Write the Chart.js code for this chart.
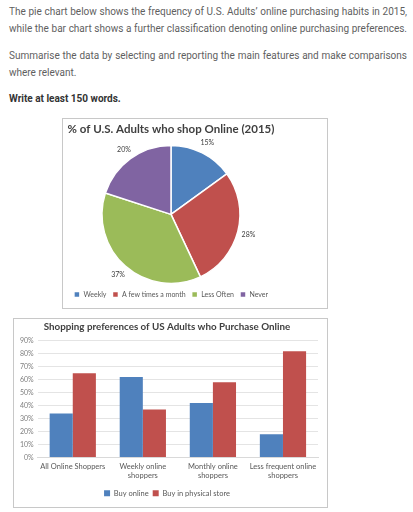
<!DOCTYPE html>
<html>
<head>
<meta charset="utf-8">
<script src="https://cdn.jsdelivr.net/npm/chart.js@4.4.1/dist/chart.umd.min.js"></script>
<style>
  body { margin: 0; background: #fff; width: 413px; height: 512px; overflow: hidden; position: relative; }
  .txt { position: absolute; left: 9px; font-family: Roboto, sans-serif; font-size: 10px; color: #5f5f5f; white-space: nowrap; }
  .full { width: 398px; text-align: justify; text-align-last: justify; white-space: normal; }
  .bold { font-weight: bold; color: #333; }
  .box { position: absolute; border: 1px solid #c8c8c8; box-sizing: border-box; }
  .box canvas { display: block; }
  #pieBox { left: 62px; top: 118px; width: 266px; height: 191px; }
  #barBox { left: 13px; top: 318px; width: 315px; height: 190px; }
</style>
</head>
<body>
<div class="txt full" style="top:6px">The pie chart below shows the frequency of U.S. Adults’ online purchasing habits in 2015,</div>
<div class="txt full" style="top:23px">while the bar chart shows a further classification denoting online purchasing preferences.</div>
<div class="txt full" style="top:50px">Summarise the data by selecting and reporting the main features and make comparisons</div>
<div class="txt" style="top:67px">where relevant.</div>
<div class="txt bold" style="top:93px">Write at least 150 words.</div>

<div class="box" id="pieBox"><canvas id="pie" width="264" height="189"></canvas></div>
<div class="box" id="barBox"><canvas id="bar" width="313" height="188"></canvas></div>

<script>
const pieLabels = ['Weekly', 'A few times a month', 'Less Often', 'Never'];
const pieValues = [15, 28, 37, 20];

const barCategories = [['All Online Shoppers'], ['Weekly online', 'shoppers'], ['Monthly online', 'shoppers'], ['Less frequent online', 'shoppers']];
const buyOnline = [34, 62, 42, 18];
const buyPhysical = [65, 37, 58, 82];
const yTicks = [0, 10, 20, 30, 40, 50, 60, 70, 80, 90];

const font = 'Lato, sans-serif';

// labels drawn outside the slices
const outsideLabels = {
    id: 'outsideLabels',
    afterDatasetsDraw(chart) {
        const ctx = chart.ctx;
        const meta = chart.getDatasetMeta(0);
        ctx.save();
        ctx.font = '7px ' + font;
        ctx.fillStyle = '#404040';
        ctx.textAlign = 'center';
        ctx.textBaseline = 'middle';
        meta.data.forEach((arc, i) => {
            const p = arc.getProps(['x', 'y', 'startAngle', 'endAngle', 'outerRadius'], true);
            const mid = (p.startAngle + p.endAngle) / 2;
            const r = p.outerRadius + 11;
            ctx.fillText(pieValues[i] + '%', p.x + Math.cos(mid) * r, p.y + Math.sin(mid) * r);
        });
        ctx.restore();
    }
};

new Chart(document.getElementById('pie'), {
    type: 'pie',
    data: {
        labels: pieLabels,
        datasets: [{
            data: pieValues,
            backgroundColor: ['#4f81bd', '#c0504d', '#9bbb59', '#8064a2'],
            borderColor: '#ffffff',
            borderWidth: 1.5
        }]
    },
    options: {
        responsive: false,
        animation: false,
        radius: 69,
        layout: { padding: { left: 0, right: 48, top: 2, bottom: 0 } },
        plugins: {
            title: {
                display: true,
                text: '% of U.S. Adults who shop Online (2015)',
                color: '#404040',
                font: { family: font, size: 11.5, weight: 'bold' },
                padding: { top: 1, bottom: 8 }
            },
            legend: {
                position: 'bottom',
                labels: {
                    boxWidth: 6, boxHeight: 6, padding: 6,
                    color: '#595959',
                    font: { family: font, size: 7 }
                }
            },
            tooltip: { enabled: false }
        }
    },
    plugins: [outsideLabels]
});

new Chart(document.getElementById('bar'), {
    type: 'bar',
    data: {
        labels: barCategories,
        datasets: [
            { label: 'Buy online', data: buyOnline, backgroundColor: '#4f81bd' },
            { label: 'Buy in physical store', data: buyPhysical, backgroundColor: '#c0504d' }
        ]
    },
    options: {
        responsive: false,
        animation: false,
        layout: { padding: { left: 2, right: 9, top: 0, bottom: 0 } },
        datasets: { bar: { barPercentage: 1, categoryPercentage: 0.66 } },
        scales: {
            x: {
                grid: { display: false, drawTicks: false, tickLength: 0 },
                border: { color: '#d9d9d9' },
                ticks: { color: '#595959', font: { family: font, size: 7.5 }, maxRotation: 0, autoSkip: false, padding: 5 }
            },
            y: {
                min: 0, max: 90,
                afterBuildTicks(axis) { axis.ticks = yTicks.map(v => ({ value: v })); },
                grid: { color: '#e4e4e4', drawTicks: false },
                border: { display: false },
                ticks: { color: '#7f7f7f', font: { family: font, size: 7 }, callback: v => v + '%', padding: 4 }
            }
        },
        plugins: {
            title: {
                display: true,
                text: 'Shopping preferences of US Adults who Purchase Online',
                color: '#404040',
                font: { family: font, size: 9.8, weight: 'bold' },
                padding: { top: 2, bottom: 8 }
            },
            legend: {
                position: 'bottom',
                labels: {
                    boxWidth: 6, boxHeight: 6, padding: 4,
                    color: '#595959',
                    font: { family: font, size: 7.5 }
                }
            },
            tooltip: { enabled: false }
        }
    }
});
</script>
</body>
</html>
